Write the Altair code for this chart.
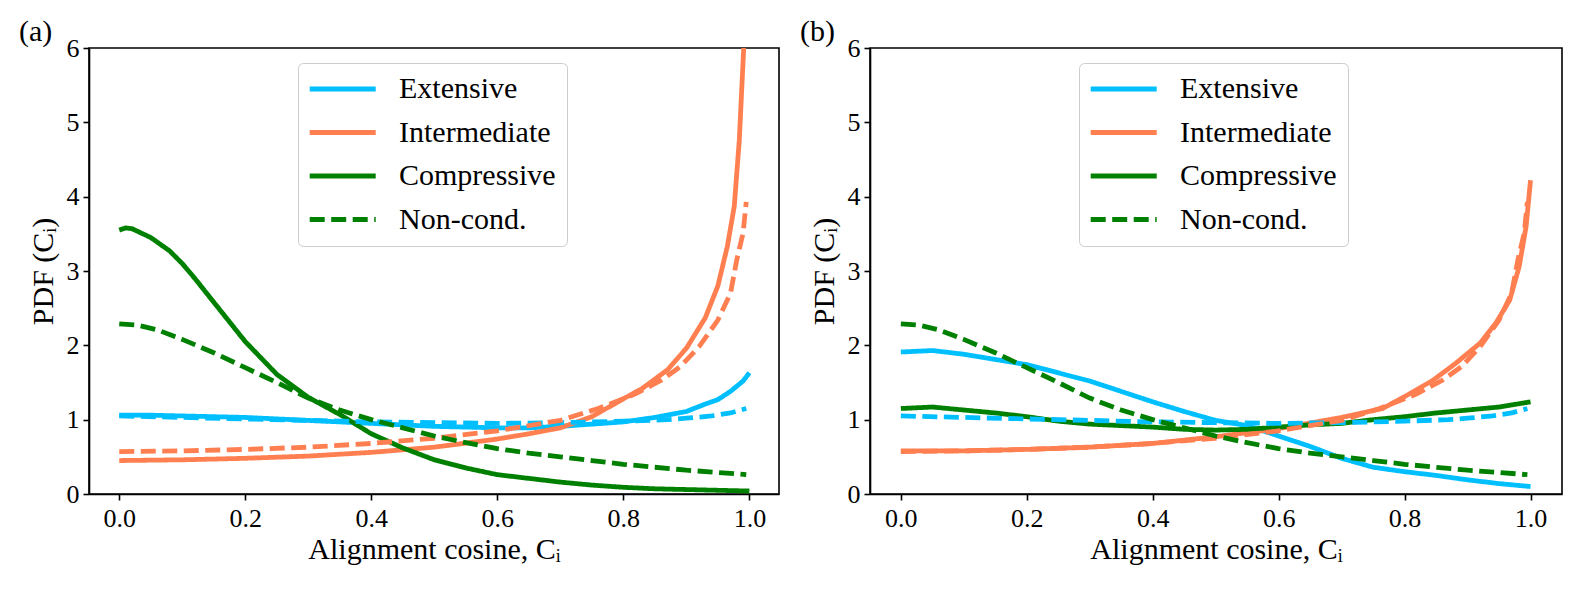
import altair as alt
import pandas as pd

FONT = "Liberation Serif"

# ---------------- data ----------------
# Non-conditioned PDFs (same in both panels)
nc_ext_x = [0.0, 0.1, 0.2, 0.3, 0.4, 0.5, 0.6, 0.7, 0.8, 0.87, 0.9, 0.94, 0.97, 0.995]
nc_ext_y = [1.05, 1.03, 1.01, 0.99, 0.97, 0.96, 0.95, 0.96, 0.98, 1.0, 1.02, 1.05, 1.09, 1.15]

nc_int_x = [0.0, 0.1, 0.2, 0.3, 0.4, 0.5, 0.6, 0.7, 0.76, 0.8, 0.82, 0.86, 0.89, 0.92, 0.95, 0.97, 0.98, 0.99, 0.995]
nc_int_y = [0.57, 0.58, 0.60, 0.63, 0.68, 0.75, 0.85, 0.99, 1.15, 1.28, 1.35, 1.53, 1.71, 1.98, 2.34, 2.70, 3.15, 3.51, 3.93]

nc_comp_x = [0.0, 0.03, 0.06, 0.1, 0.15, 0.2, 0.25, 0.3, 0.35, 0.4, 0.45, 0.5, 0.55, 0.6, 0.65, 0.7, 0.75, 0.8, 0.85, 0.9, 0.95, 0.995]
nc_comp_y = [2.29, 2.27, 2.21, 2.08, 1.90, 1.70, 1.50, 1.29, 1.13, 1.00, 0.89, 0.78, 0.69, 0.61, 0.55, 0.50, 0.45, 0.40, 0.36, 0.32, 0.29, 0.26]

# Panel (a)
a_ext_x = [0.0, 0.05, 0.1, 0.15, 0.2, 0.25, 0.3, 0.35, 0.4, 0.45, 0.5, 0.55, 0.6, 0.65, 0.7, 0.75, 0.8, 0.85, 0.9, 0.93, 0.95, 0.97, 0.99, 1.0]
a_ext_y = [1.06, 1.06, 1.05, 1.04, 1.03, 1.01, 0.99, 0.97, 0.95, 0.93, 0.91, 0.90, 0.89, 0.89, 0.91, 0.94, 0.97, 1.03, 1.11, 1.21, 1.27, 1.38, 1.52, 1.63]

a_int_x = [0.0, 0.1, 0.2, 0.3, 0.4, 0.5, 0.6, 0.65, 0.7, 0.75, 0.8, 0.83, 0.87, 0.9, 0.93, 0.95, 0.965, 0.976, 0.984, 0.991]
a_int_y = [0.45, 0.46, 0.48, 0.51, 0.56, 0.63, 0.74, 0.81, 0.89, 1.04, 1.28, 1.42, 1.67, 1.96, 2.37, 2.80, 3.33, 3.87, 4.76, 6.0]

a_comp_x = [0.0, 0.01, 0.02, 0.05, 0.08, 0.1, 0.12, 0.15, 0.2, 0.25, 0.3, 0.35, 0.4, 0.45, 0.5, 0.55, 0.6, 0.65, 0.7, 0.75, 0.8, 0.85, 0.9, 0.95, 1.0]
a_comp_y = [3.55, 3.58, 3.57, 3.45, 3.27, 3.10, 2.90, 2.58, 2.05, 1.61, 1.30, 1.07, 0.81, 0.62, 0.46, 0.35, 0.26, 0.21, 0.16, 0.12, 0.09, 0.07, 0.06, 0.05, 0.04]

# Panel (b)
b_ext_x = [0.0, 0.05, 0.1, 0.15, 0.2, 0.25, 0.3, 0.35, 0.4, 0.45, 0.5, 0.55, 0.6, 0.65, 0.7, 0.75, 0.8, 0.85, 0.9, 0.95, 1.0]
b_ext_y = [1.91, 1.93, 1.88, 1.81, 1.74, 1.63, 1.52, 1.38, 1.24, 1.11, 0.99, 0.92, 0.78, 0.64, 0.48, 0.36, 0.30, 0.25, 0.19, 0.14, 0.10]

b_int_x = [0.0, 0.1, 0.2, 0.3, 0.4, 0.5, 0.6, 0.7, 0.765, 0.8, 0.845, 0.88, 0.92, 0.945, 0.967, 0.982, 0.993, 1.0]
b_int_y = [0.58, 0.58, 0.60, 0.63, 0.68, 0.77, 0.88, 1.03, 1.15, 1.31, 1.53, 1.75, 2.03, 2.30, 2.61, 3.06, 3.60, 4.22]

b_comp_x = [0.0, 0.05, 0.1, 0.15, 0.2, 0.25, 0.3, 0.35, 0.4, 0.45, 0.5, 0.55, 0.6, 0.65, 0.7, 0.75, 0.8, 0.85, 0.9, 0.95, 1.0]
b_comp_y = [1.15, 1.17, 1.13, 1.09, 1.04, 0.98, 0.94, 0.92, 0.90, 0.87, 0.86, 0.87, 0.90, 0.93, 0.95, 1.00, 1.04, 1.09, 1.13, 1.17, 1.24]

x_ticks = [0.0, 0.2, 0.4, 0.6, 0.8, 1.0]
y_ticks = [0, 1, 2, 3, 4, 5, 6]

keys = ["Extensive", "Intermediate", "Compressive", "Non-cond.", "Non-cond. ext", "Non-cond. int"]
legend_keys = ["Extensive", "Intermediate", "Compressive", "Non-cond."]
colors = ["#00BFFF", "#FF7F50", "#008000", "#008000", "#00BFFF", "#FF7F50"]
dashes = [[1, 0], [1, 0], [1, 0], [15, 6.5], [15, 6.5], [15, 6.5]]


def rows(key, xs, ys):
    return [{"key": key, "x": x, "y": y} for x, y in zip(xs, ys)]


def nc_rows():
    return (rows("Non-cond. ext", nc_ext_x, nc_ext_y)
            + rows("Non-cond. int", nc_int_x, nc_int_y)
            + rows("Non-cond.", nc_comp_x, nc_comp_y))


df_a = pd.DataFrame(rows("Extensive", a_ext_x, a_ext_y)
                    + rows("Intermediate", a_int_x, a_int_y)
                    + rows("Compressive", a_comp_x, a_comp_y)
                    + nc_rows())
df_b = pd.DataFrame(rows("Extensive", b_ext_x, b_ext_y)
                    + rows("Intermediate", b_int_x, b_int_y)
                    + rows("Compressive", b_comp_x, b_comp_y)
                    + nc_rows())


def legend():
    return alt.Legend(
        orient="none", legendX=209, legendY=15, title=None, values=legend_keys,
        symbolType="M-1.3,0L4.7,0", symbolSize=484, symbolStrokeWidth=5,
        labelFont=FONT, labelFontSize=30, labelColor="black", labelOffset=60,
        rowPadding=13.5, padding=11, strokeColor="#cccccc", fillColor="white",
        cornerRadius=5,
    )


def panel(df, label, width, xdom):
    return alt.Chart(df).mark_line(strokeWidth=4.8, clip=True).encode(
        x=alt.X("x:Q", scale=alt.Scale(domain=xdom, nice=False, zero=False),
                axis=alt.Axis(values=x_ticks, format=".1f", title="Alignment cosine, Cᵢ")),
        y=alt.Y("y:Q", scale=alt.Scale(domain=[0, 6], nice=False),
                axis=alt.Axis(values=y_ticks, format="d", title="PDF (Cᵢ)")),
        color=alt.Color("key:N", scale=alt.Scale(domain=keys, range=colors), legend=legend()),
        strokeDash=alt.StrokeDash("key:N", scale=alt.Scale(domain=keys, range=dashes), legend=legend()),
    ).properties(
        width=width, height=446,
        title=alt.TitleParams(label, anchor="start", frame="group", dx=-70,
                              baseline="alphabetic", offset=0, dy=36),
    )


pa = panel(df_a, "(a)", 690, [-0.048, 1.047])
pb = panel(df_b, "(b)", 692, [-0.049, 1.05])

chart = (
    alt.hconcat(pa, pb, spacing=19)
    .resolve_scale(color="independent", strokeDash="independent")
    .resolve_legend(color="independent", strokeDash="independent")
    .properties(padding={"left": 10, "top": 8, "right": 5, "bottom": 5}, background="white")
    .configure_view(stroke="black", strokeWidth=1.6)
    .configure_axis(
        domainColor="black", domainWidth=1.6, tickColor="black", tickWidth=1.6, tickSize=6,
        labelFont=FONT, labelFontSize=26, labelColor="black",
        titleFont=FONT, titleFontSize=30, titleFontWeight="normal", titleColor="black",
        grid=False,
    )
    .configure_axisX(labelPadding=5, titlePadding=3)
    .configure_axisY(labelPadding=4, titlePadding=8)
    .configure_title(font=FONT, fontSize=30, fontWeight="normal", color="black", anchor="start")
)

chart.save("out.html", embed_options={"renderer": "svg", "actions": False})
